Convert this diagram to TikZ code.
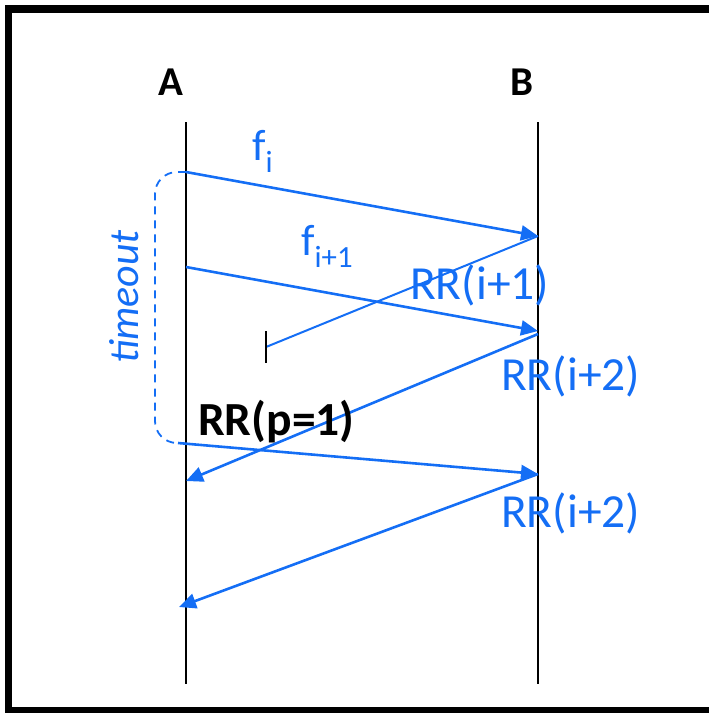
\documentclass[tikz,border=0pt]{standalone}
\usepackage{fontspec}
\setmainfont{Carlito}
\usetikzlibrary{arrows.meta}
\definecolor{msgblue}{RGB}{20,110,245}
\tikzset{
  lifeline/.style={black, line width=1.6pt},
  msg/.style={msgblue, line width=2.6pt, -{Triangle[length=17pt,width=15pt]}},
  lostmsg/.style={msgblue, line width=2pt},
  lbl/.style={msgblue, inner sep=0pt, anchor=base west},
  hdr/.style={inner sep=0pt, anchor=base, font=\fontsize{41}{48}\selectfont\bfseries},
}
\begin{document}
\begin{tikzpicture}[x=1pt,y=-1pt]
\useasboundingbox (0,0) rectangle (709,713);
\clip (0,0) rectangle (709,713);
% frame (right side lies outside the picture)
\draw[line width=7.5pt] (760,9) -- (8.5,9) -- (8.5,711) -- (760,711);
% headers
\node[hdr] (hA) at (171,95) {A};
\node[hdr] (hB) at (522,95) {B};
% lifelines
\coordinate (At) at (186,122); \coordinate (Ab) at (186,684);
\coordinate (Bt) at (538,122); \coordinate (Bb) at (538,684);
\draw[lifeline] (At) -- (Ab);
\draw[lifeline] (Bt) -- (Bb);
% message points
\coordinate (a1) at (186,172);
\coordinate (b1) at (538,236);
\coordinate (a2) at (186,267);
\coordinate (b2) at (538,331);
\coordinate (b2r) at (538,334);
\coordinate (a3) at (186,481);
\coordinate (a4) at (178,443);
\coordinate (b4) at (538,474);
\coordinate (a5) at (179,607);
\coordinate (lost) at (266,347);
\coordinate (tickT) at (266,331);
\coordinate (tickB) at (266,363);
\coordinate (corner) at (155,443);
% messages
\draw[msg] (a1) -- (b1);
\draw[msg] (a2) -- (b2);
\draw[lostmsg] (b1) -- (lost);
\draw[black, line width=1.6pt] (tickT) -- (tickB);
\draw[msg] (b2r) -- (a3);
\draw[msg] (a4) -- (b4);
\draw[msg] (b4) -- (a5);
% timeout bracket
\draw[msgblue, line width=1.8pt, dash pattern=on 8pt off 6pt, rounded corners=22pt]
  (a1) -| (corner) -- (a4);
\node[msgblue, inner sep=0pt, rotate=90, font=\fontsize{42}{48}\selectfont\itshape] (tmo) at (124,297) {timeout};
% labels
\node[lbl, font=\fontsize{44}{50}\selectfont] (lfi) at (252,160) {f\textsubscript{i}};
\node[lbl, font=\fontsize{44}{50}\selectfont] (lfi1) at (301,255) {f\textsubscript{i+1}};
\node[lbl, font=\fontsize{47.5}{54}\selectfont] (lrr1) at (410,299) {RR(i+1)};
\node[lbl, font=\fontsize{47.5}{54}\selectfont] (lrr2) at (501,390) {RR(i+2)};
\node[lbl, font=\fontsize{47.5}{54}\selectfont] (lrr3) at (501,527) {RR(i+2)};
\node[lbl, black, font=\fontsize{47.5}{54}\selectfont\bfseries] (lrp) at (198,435) {RR(p=1)};
\end{tikzpicture}
\end{document}
